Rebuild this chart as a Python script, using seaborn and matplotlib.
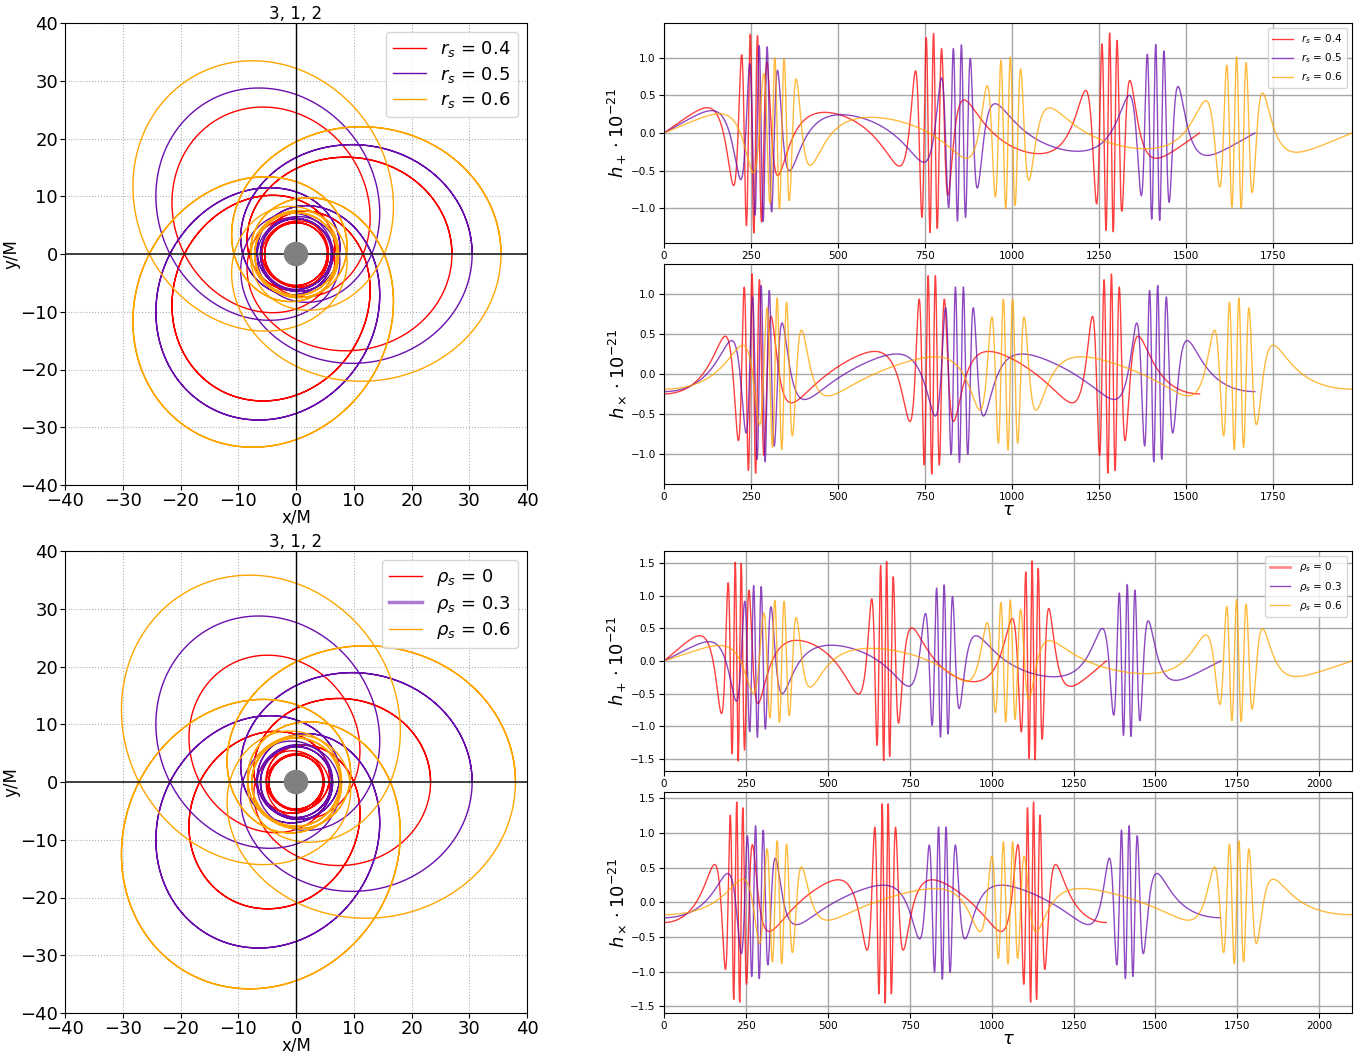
import numpy as np
import pandas as pd
import matplotlib
matplotlib.use("Agg")
import matplotlib.pyplot as plt
import seaborn as sns

# ---------------- values ----------------
labels_rs = [r"$r_s$ = 0.4", r"$r_s$ = 0.5", r"$r_s$ = 0.6"]
labels_rho = [r"$\rho_s$ = 0", r"$\rho_s$ = 0.3", r"$\rho_s$ = 0.6"]
colors = ["red", "#6a0dad", "orange"]
apo_rs = [27.0, 30.5, 35.5]          # apoapsis distance (x/M) of each orbit, top row
apo_rho = [23.3, 30.5, 38.0]         # apoapsis distance, bottom row
tau_end_rs = [1538, 1697, 1976]      # end of each waveform (tau), top row
tau_end_rho = [1350, 1699, 2100]     # end of each waveform (tau), bottom row
apo_peri_ratio = 5.0                 # apoapsis / whirl radius
orbit_code = (3, 1, 2)               # (z, w, v)
amp = 2.39                           # waveform amplitude factor (units of 1e-21 * M)
incl, zeta = np.pi / 4, np.pi / 4    # observer angles
bh_radius = 2.0
orbit_periods = 4.5                  # radial periods drawn in the orbit panels
wave_periods = 3                     # radial periods in the waveforms

# ---------------- periodic geodesic (Schwarzschild-like shape) ----------------
z, w, v = orbit_code
dphi_target = 2 * np.pi * (1 + w + v / z)
ecc = (apo_peri_ratio - 1) / (apo_peri_ratio + 1)
chi_grid = np.linspace(0, 2 * np.pi, 40001)


def radial_dphi(p):
    f = np.sqrt(p / (p - 6 - 2 * ecc * np.cos(chi_grid)))
    return np.trapezoid(f, chi_grid)


lo, hi = 6 + 2 * ecc + 1e-9, 60.0
for _ in range(100):
    mid = 0.5 * (lo + hi)
    if radial_dphi(mid) > dphi_target:
        lo = mid
    else:
        hi = mid
p_lat = 0.5 * (lo + hi)
L_ang = p_lat / np.sqrt(p_lat - 3 - ecc ** 2)


def cumtrapz(f, x):
    return np.concatenate([[0.0], np.cumsum(0.5 * (f[1:] + f[:-1]) * np.diff(x))])


def geodesic(n_periods, npts=12000):
    ch = np.linspace(np.pi, np.pi + 2 * np.pi * n_periods, int(npts * n_periods) + 1)
    r = p_lat / (1 + ecc * np.cos(ch))
    dphi = np.sqrt(p_lat / (p_lat - 6 - 2 * ecc * np.cos(ch)))
    dtau = r ** 2 / L_ang * dphi
    return r, cumtrapz(dphi, ch), cumtrapz(dtau, ch)


r_unit_apo = p_lat / (1 - ecc)
r_o, phi_o, tau_o = geodesic(orbit_periods)
r_w, phi_w, tau_w = geodesic(wave_periods)


def orbit_frame(apo, label):
    s = apo / r_unit_apo
    return pd.DataFrame({"x": s * r_o * np.cos(phi_o), "y": s * r_o * np.sin(phi_o), "label": label})


def wave_frame(apo, tau_end, label):
    s = apo / r_unit_apo
    rr = s * r_w
    hp = -(2 * amp / rr) * (1 + np.cos(incl) ** 2) * np.cos(2 * phi_w + 2 * zeta)
    hx = -(4 * amp / rr) * np.cos(incl) * np.sin(2 * phi_w + 2 * zeta)
    tau = tau_w * tau_end / tau_w[-1]
    return pd.DataFrame({"tau": tau, "hp": hp, "hx": hx, "label": label})


# ---------------- figure ----------------
W, H = 1371, 1052
fig = plt.figure(figsize=(W / 100, H / 100), dpi=100)


def box(x0, y0, x1, y1):
    return [x0 / W, 1 - y1 / H, (x1 - x0) / W, (y1 - y0) / H]


def orbit_panel(rect, apos, labels, thick_handle=None):
    ax = fig.add_axes(rect)
    for apo, lab, col in zip(apos, labels, colors):
        df = orbit_frame(apo, lab)
        sns.lineplot(data=df, x="x", y="y", sort=False, estimator=None, color=col,
                     lw=1.0, label=lab, ax=ax)
    ax.axhline(0, color="#222222", lw=1.2, zorder=2)
    ax.axvline(0, color="k", lw=1.0, zorder=2)
    ax.add_patch(plt.Circle((0, 0), bh_radius, color="gray", zorder=5))
    ax.set_xlim(-40, 40)
    ax.set_ylim(-40, 40)
    ax.set_xticks(np.arange(-40, 41, 10))
    ax.set_yticks(np.arange(-40, 41, 10))
    ax.grid(True, linestyle=":", lw=0.8, color="#b0b0b0")
    ax.tick_params(labelsize=13, pad=1.5)
    ax.set_xlabel("x/M", fontsize=12, labelpad=-1)
    ax.set_ylabel("y/M", fontsize=12, labelpad=0)
    ax.set_title("3, 1, 2", fontsize=12, pad=3)
    leg = ax.legend(loc="upper right", fontsize=13, labelspacing=0.3, handlelength=1.8)
    if thick_handle is not None:
        hl = leg.get_lines()[thick_handle]
        hl.set_linewidth(2.5)
        hl.set_alpha(0.55)
    return ax


def wave_panels(rect_p, rect_x, apos, tau_ends, labels, thick_handle=None):
    axp = fig.add_axes(rect_p)
    axx = fig.add_axes(rect_x)
    for apo, te, lab, col in zip(apos, tau_ends, labels, colors):
        df = wave_frame(apo, te, lab)
        sns.lineplot(data=df, x="tau", y="hp", sort=False, estimator=None, color=col,
                     lw=1.0, alpha=0.75, label=lab, ax=axp)
        sns.lineplot(data=df, x="tau", y="hx", sort=False, estimator=None, color=col,
                     lw=1.0, alpha=0.75, legend=False, ax=axx)
    tmax = max(tau_ends)
    for ax, yl in ((axp, r"$h_+ \cdot 10^{-21}$"), (axx, r"$h_\times \cdot 10^{-21}$")):
        ax.set_xlim(0, tmax)
        ax.grid(True, color="#a8a8a8", lw=1.0)
        ax.tick_params(labelsize=7.5, pad=2.5)
        ax.set_ylabel(yl, fontsize=13, labelpad=1)
        ax.set_xlabel("")
    axx.set_xlabel(r"$\tau$", fontsize=13, labelpad=-1)
    leg = axp.legend(loc="upper right", fontsize=7.5)
    if thick_handle is not None:
        hl = leg.get_lines()[thick_handle]
        hl.set_linewidth(2.0)
        hl.set_alpha(0.45)


orbit_panel(box(65, 23, 527, 485), apo_rs, labels_rs)
orbit_panel(box(65, 551, 527, 1013), apo_rho, labels_rho, thick_handle=1)
wave_panels(box(664, 23, 1352, 243), box(664, 264, 1352, 484), apo_rs, tau_end_rs, labels_rs)
wave_panels(box(664, 551, 1352, 771), box(664, 792, 1352, 1013), apo_rho, tau_end_rho, labels_rho,
            thick_handle=0)

fig.savefig("out.png", dpi=100)
